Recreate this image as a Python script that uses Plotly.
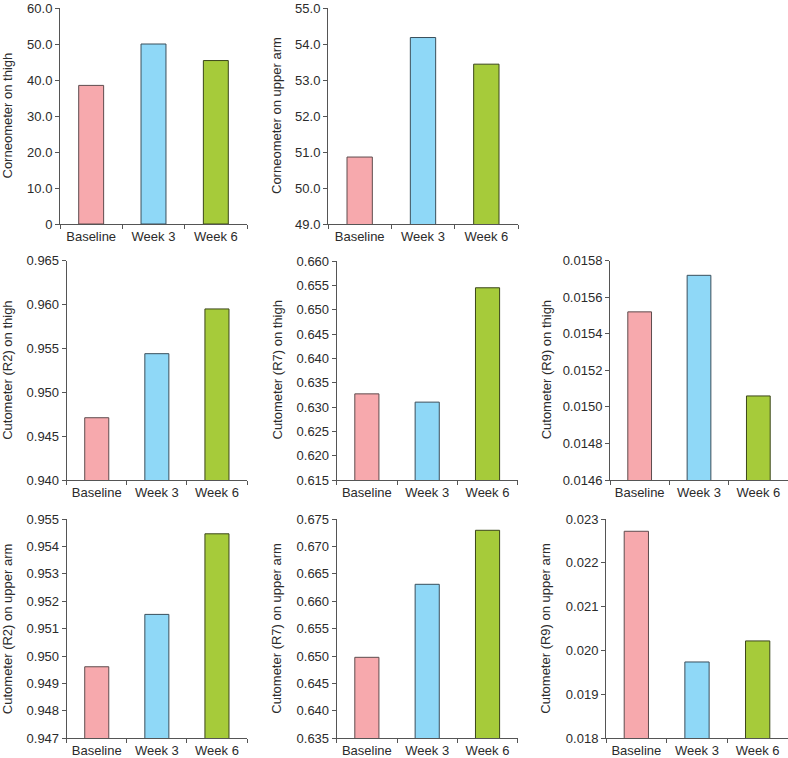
import plotly.graph_objects as go

W, H = 788, 758

categories = ["Baseline", "Week 3", "Week 6"]
bar_colors = ["#F7A9AD", "#8FD8F7", "#A6CB3A"]
bar_edges = ["#5e4c4e", "#3a4f5b", "#3b461a"]

corneometer_thigh = [38.5, 50.0, 45.4]
corneometer_arm = [50.86, 54.18, 53.44]
r2_thigh = [0.9471, 0.9544, 0.9595]
r7_thigh = [0.6327, 0.6310, 0.6545]
r9_thigh = [0.01552, 0.01572, 0.01506]
r2_arm = [0.94961, 0.95152, 0.95446]
r7_arm = [0.64977, 0.66309, 0.67294]
r9_arm = [0.02272, 0.01974, 0.02022]

ticks_c_thigh = [0, 10, 20, 30, 40, 50, 60]
labels_c_thigh = ["0", "10.0", "20.0", "30.0", "40.0", "50.0", "60.0"]
ticks_c_arm = [49, 50, 51, 52, 53, 54, 55]
labels_c_arm = ["49.0", "50.0", "51.0", "52.0", "53.0", "54.0", "55.0"]
ticks_r2_thigh = [0.940, 0.945, 0.950, 0.955, 0.960, 0.965]
labels_r2_thigh = ["0.940", "0.945", "0.950", "0.955", "0.960", "0.965"]
ticks_r7_thigh = [0.615, 0.620, 0.625, 0.630, 0.635, 0.640, 0.645, 0.650, 0.655, 0.660]
labels_r7_thigh = ["0.615", "0.620", "0.625", "0.630", "0.635", "0.640", "0.645", "0.650", "0.655", "0.660"]
ticks_r9_thigh = [0.0146, 0.0148, 0.0150, 0.0152, 0.0154, 0.0156, 0.0158]
labels_r9_thigh = ["0.0146", "0.0148", "0.0150", "0.0152", "0.0154", "0.0156", "0.0158"]
ticks_r2_arm = [0.947, 0.948, 0.949, 0.950, 0.951, 0.952, 0.953, 0.954, 0.955]
labels_r2_arm = ["0.947", "0.948", "0.949", "0.950", "0.951", "0.952", "0.953", "0.954", "0.955"]
ticks_r7_arm = [0.635, 0.640, 0.645, 0.650, 0.655, 0.660, 0.665, 0.670, 0.675]
labels_r7_arm = ["0.635", "0.640", "0.645", "0.650", "0.655", "0.660", "0.665", "0.670", "0.675"]
ticks_r9_arm = [0.018, 0.019, 0.020, 0.021, 0.022, 0.023]
labels_r9_arm = ["0.018", "0.019", "0.020", "0.021", "0.022", "0.023"]

# panel specs: (values, ticks, labels, title, x0px, x1px, y_top_px, y_bot_px, title_x_px)
panels = [
    (corneometer_thigh, ticks_c_thigh, labels_c_thigh, "Corneometer on thigh", 60, 247, 8, 224, 7.5),
    (corneometer_arm, ticks_c_arm, labels_c_arm, "Corneometer on upper arm", 328, 518, 8, 224, 277),
    (r2_thigh, ticks_r2_thigh, labels_r2_thigh, "Cutometer (R2) on thigh", 66.7, 247, 260.7, 480, 7.5),
    (r7_thigh, ticks_r7_thigh, labels_r7_thigh, "Cutometer (R7) on thigh", 336.7, 517.7, 261, 480, 277),
    (r9_thigh, ticks_r9_thigh, labels_r9_thigh, "Cutometer (R9) on thigh", 610, 788, 260.7, 480, 546),
    (r2_arm, ticks_r2_arm, labels_r2_arm, "Cutometer (R2) on upper arm", 66.7, 247, 519, 738.3, 7.5),
    (r7_arm, ticks_r7_arm, labels_r7_arm, "Cutometer (R7) on upper arm", 336.7, 517.7, 519, 738.3, 277),
    (r9_arm, ticks_r9_arm, labels_r9_arm, "Cutometer (R9) on upper arm", 606, 788, 519, 738.3, 546),
]

fig = go.Figure()
layout = {}
annotations = []
font_family = "Liberation Sans, Arial, sans-serif"
axis_color = "#555555"
text_color = "#2b2b2b"

for i, (vals, tv, tt, title, x0, x1, yt, yb, tx) in enumerate(panels, start=1):
    xa = "x" if i == 1 else f"x{i}"
    ya = "y" if i == 1 else f"y{i}"
    fig.add_trace(go.Bar(
        x=categories, y=vals, xaxis=xa, yaxis=ya,
        marker=dict(color=bar_colors, line=dict(color=bar_edges, width=1)),
        width=0.4, showlegend=False, hoverinfo="x+y",
    ))
    xd = [x0 / W, min(x1 / W, 1.0)]
    yd = [1 - yb / H, 1 - yt / H]
    key_x = "xaxis" if i == 1 else f"xaxis{i}"
    key_y = "yaxis" if i == 1 else f"yaxis{i}"
    span = tv[-1] - tv[0]
    layout[key_x] = dict(
        domain=xd, anchor=ya, type="category", range=[-0.5, 2.5],
        showline=True, linecolor=axis_color, linewidth=1,
        ticks="outside", tickson="boundaries", ticklen=4, tickcolor=axis_color,
        showgrid=False, zeroline=False, automargin=False,
        tickfont=dict(family=font_family, size=13, color=text_color),
        fixedrange=True,
    )
    layout[key_y] = dict(
        domain=yd, anchor=xa, range=[tv[0], tv[-1] + span * 1e-6],
        tickmode="array", tickvals=tv, ticktext=tt,
        showline=True, linecolor=axis_color, linewidth=1,
        ticks="outside", ticklen=4, tickcolor=axis_color,
        showgrid=False, zeroline=False, automargin=False,
        tickfont=dict(family=font_family, size=13, color=text_color),
        fixedrange=True,
    )
    annotations.append(dict(
        text=title, textangle=-90, xref="paper", yref="paper",
        x=tx / W, y=(yd[0] + yd[1]) / 2, xanchor="center", yanchor="middle",
        showarrow=False, font=dict(family=font_family, size=13, color=text_color),
    ))

fig.update_layout(
    width=W, height=H,
    margin=dict(l=0, r=0, t=0, b=0, autoexpand=False),
    paper_bgcolor="white", plot_bgcolor="white",
    annotations=annotations,
    **layout,
)

fig.write_html(
    "out.html",
    config={"displayModeBar": False, "responsive": False},
    post_script="document.body.style.margin='0';document.body.style.overflow='hidden';",
)
